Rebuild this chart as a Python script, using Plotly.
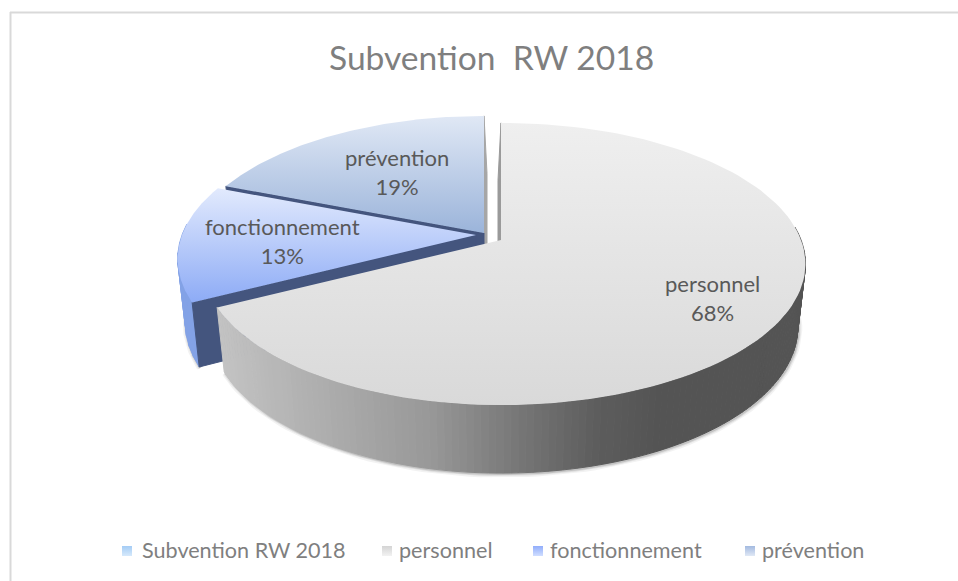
import numpy as np
import plotly.graph_objects as go

# ---- data ----
categories = ["personnel", "fonctionnement", "prévention"]
values = [67.5, 13.4, 19.1]
series_name = "Subvention RW 2018"
title_text = "Subvention  RW 2018"
legend_labels = ["Subvention RW 2018", "personnel", "fonctionnement", "prévention"]

# ---- style ----
W, H = 958, 581
FONT = "Lato, 'Open Sans', sans-serif"
TEXT = "#595959"
# (top colour, bottom colour)
face_colors = [("#efefef", "#d9d9d9"), ("#e2eafd", "#8dabf6"), ("#e0e8f5", "#9bb4da")]
legend_colors = [("#d6e9fb", "#a4ccf5"), ("#f2f2f2", "#d4d4d4"), ("#d0deff", "#91adfb"), ("#e0e8f5", "#a3bae0")]
WALL = "#44557e"
explode = [(0, 0), (-25, -5), (-17, -7)]
X0, Y0, A, B, K = 501.0, 240.0, 300.0, 137.0, 0.17
LEFT_SCALE = 0.98
DEPTH, BOTTOM = 62.0, 0.975
label_pos = [(712, 298), (282, 241), (397, 172)]
legend_swatch_x = [127, 387, 538, 750]
legend_text_x = [140, 397, 548, 760]
LEGEND_Y = 550


def rim(theta):
    u, v = np.sin(theta), np.cos(theta)
    w = 1 + K * v
    return A * u / w * np.where(u < 0, LEFT_SCALE, 1.0), -B * v / w, w


def lower(dx, dy, w):
    return dx * BOTTOM, dy + DEPTH / np.sqrt(w)


def quad(xs, ys, color, **kw):
    return go.Scatter(x=xs, y=ys, mode="lines", fill="toself", fillcolor=color,
                      line=dict(color=color, width=1), hoverinfo="skip", showlegend=False, **kw)


def lerp_grey(x):
    stops_x = [215, 330, 430, 520, 600, 660, 810]
    stops_g = [196, 172, 152, 118, 92, 84, 84]
    g = np.interp(x, stops_x, stops_g)
    return f"rgb({g:.1f},{g:.1f},{g:.1f})"


total = sum(values)
fracs = np.array(values) / total
edges = np.concatenate([[0], np.cumsum(fracs)]) * 2 * np.pi
fig = go.Figure()


def face(i):
    ox, oy = explode[i]
    th = np.linspace(edges[i], edges[i + 1], 120)
    dx, dy, _ = rim(th)
    xs = np.concatenate([[X0 + ox], X0 + ox + dx, [X0 + ox]])
    ys = np.concatenate([[Y0 + oy], Y0 + oy + dy, [Y0 + oy]])
    c0, c1 = face_colors[i]
    return go.Scatter(x=xs, y=ys, mode="lines", fill="toself", line=dict(width=0),
                      fillgradient=dict(type="vertical", colorscale=[[0, c1], [1, c0]]),
                      hoverinfo="skip", showlegend=False, name=categories[i])


def radial_wall(i, theta, color, shift=0.0):
    ox, oy = explode[i]
    dx, dy, w = rim(theta)
    lx, ly = lower(dx, dy, w)
    ax, ay = X0 + ox, Y0 + oy
    return quad([ax, ax + dx, ax + lx + shift, ax + shift, ax],
                [ay, ay + dy, ay + ly, ay + DEPTH, ay], color)


def outer_wall(i, t0, t1, n, colorfn):
    ox, oy = explode[i]
    th = np.linspace(t0, t1, n + 1)
    for a, b in zip(th[:-1], th[1:]):
        dx, dy, w = rim(np.array([a, b]))
        lx, ly = lower(dx, dy, w)
        ax, ay = X0 + ox, Y0 + oy
        xs = [ax + dx[0], ax + dx[1], ax + lx[1], ax + lx[0], ax + dx[0]]
        ys = [ay + dy[0], ay + dy[1], ay + ly[1], ay + ly[0], ay + dy[0]]
        fig.add_trace(quad(xs, ys, colorfn(np.mean(xs))))


def shadow(i, t0, t1):
    ox, oy = explode[i]
    th = np.linspace(t0, t1, 100)
    dx, dy, w = rim(th)
    lx, ly = lower(dx, dy, w)
    for width, alpha in [(7, 0.05), (4, 0.08), (2, 0.12)]:
        fig.add_trace(go.Scatter(x=X0 + ox + lx + 1, y=Y0 + oy + ly + 1, mode="lines",
                                 line=dict(color=f"rgba(0,0,0,{alpha})", width=width),
                                 hoverinfo="skip", showlegend=False))


# prévention (back)
fig.add_trace(radial_wall(2, edges[3] - 1e-6, "#a6a6a6", shift=3))
fig.add_trace(radial_wall(2, edges[2], WALL))
fig.add_trace(face(2))
# fonctionnement
shadow(1, edges[1], edges[1] + 0.5)
outer_wall(1, edges[1], edges[1] + 0.55, 8, lambda x: "#83a2e6")
fig.add_trace(radial_wall(1, edges[1], WALL))
fig.add_trace(face(1))
# personnel (front)
fig.add_trace(radial_wall(0, 1e-6, "#9a9a9a", shift=-3))
shadow(0, np.pi * 0.47, edges[1])
outer_wall(0, np.pi * 0.47, edges[1], 130, lerp_grey)
fig.add_trace(face(0))

# slice labels
for i, (cat, (lx, ly)) in enumerate(zip(categories, label_pos)):
    fig.add_annotation(x=lx, y=ly, text=f"{cat}<br>{round(fracs[i] * 100)}%", showarrow=False,
                       font=dict(family=FONT, size=22, color=TEXT), xref="x", yref="y", align="center")

# legend
for lab, sx, tx, (c0, c1) in zip(legend_labels, legend_swatch_x, legend_text_x, legend_colors):
    fig.add_trace(go.Scatter(x=[sx], y=[LEGEND_Y + 1], mode="markers", hoverinfo="skip", showlegend=False,
                             marker=dict(symbol="square", size=10, color=c1,
                                         gradient=dict(type="vertical", color=c0), line=dict(width=0))))
    fig.add_annotation(x=tx, y=LEGEND_Y, text=lab, showarrow=False, xanchor="left",
                       font=dict(family=FONT, size=21.6, color="#7f7f7f"), xref="x", yref="y")

# chart border (left and top edges visible)
fig.add_shape(type="line", x0=10.5, x1=10.5, y0=12, y1=H, xref="x", yref="y", line=dict(color="#d9d9d9", width=2))
fig.add_shape(type="line", x0=10, x1=W, y0=12.5, y1=12.5, xref="x", yref="y", line=dict(color="#d9d9d9", width=2))

fig.add_annotation(x=491, y=57, text=title_text, showarrow=False, xref="x", yref="y",
                   font=dict(family=FONT, size=33.6, color="#7f7f7f"))

fig.update_layout(width=W, height=H, margin=dict(l=0, r=0, t=0, b=0), showlegend=False,
                  paper_bgcolor="white", plot_bgcolor="white",
                  xaxis=dict(range=[0, W], visible=False, fixedrange=True),
                  yaxis=dict(range=[H, 0], visible=False, fixedrange=True))

fig.write_html("out.html", config={"displayModeBar": False},
               post_script="document.body.style.margin='0';document.body.style.overflow='hidden';")
